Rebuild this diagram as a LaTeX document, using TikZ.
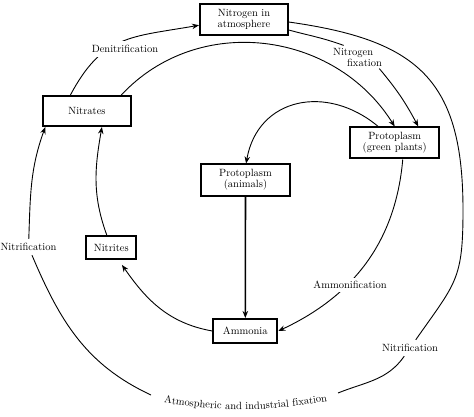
\documentclass[tikz,border=0pt]{standalone}
\usetikzlibrary{arrows.meta,decorations.text}

\begin{document}
\begin{tikzpicture}
  [x=1pt,y=1pt,line width=.9pt,
   every node/.style={font=\fontsize{10.5}{11}\selectfont,align=center},
   box/.style={draw,line width=2pt,inner sep=2pt},
   lbl/.style={inner sep=3pt},
   arr/.style={-{Stealth[length=7pt,width=5.5pt]}}]
  \useasboundingbox (0,0) rectangle (474,-417);
  % boxes
  \node[box,minimum width=88,minimum height=31] (atm) at (244,-19.7) {Nitrogen in\\atmosphere};
  \node[box,minimum width=88,minimum height=30] (nitrates) at (87,-111) {Nitrates};
  \node[box,minimum width=89,minimum height=31] (green) at (394.7,-143) {Protoplasm\\(green plants)};
  \node[box,minimum width=89,minimum height=31] (animals) at (245.5,-180) {Protoplasm\\(animals)};
  \node[box,minimum width=50,minimum height=23] (nitrites) at (111.3,-247.5) {Nitrites};
  \node[box,minimum width=64,minimum height=24] (ammonia) at (245.3,-331) {Ammonia};
  % labels the lines run through
  \node[lbl,inner sep=2pt,align=left] (nfix) at (357.5,-57) {Nitrogen\\\hspace*{14pt}fixation};
  \node[lbl,inner sep=4pt] (nitR) at (410,-348) {Nitrification};
  \node[lbl,inner sep=4pt] (nitL) at (28.5,-247) {Nitrification};
  \coordinate (east) at (463,-210);
  \coordinate (fixR) at (338,-393);
  \coordinate (fixL) at (151,-395);

  \draw[arr] (nitrates.136) to[out=62,in=190,looseness=1.2] (atm.187);
  \draw[arr] (nitrates.25) to[out=47,in=122,looseness=1.05] (green.north);
  \draw (atm.-13) to[out=-15,in=160] (nfix.140);
  \draw[arr] (nfix.-28) to[out=-50,in=118] (green.35);
  \draw[arr] (green.135) to[out=140,in=80,looseness=1.25] (animals.88);
  \draw[arr,line width=1.6pt] (animals) -- (ammonia);
  \draw[arr] (green.-64) to[out=-95,in=25] (ammonia.east);
  \draw[arr,shorten >=6pt] (ammonia.west) to[out=170,in=-55] (nitrites.-60);
  \draw[arr] (nitrites.110) to[out=110,in=-100] (nitrates.-47);

  % outer ring
  \draw (atm.-3) to[out=-8,in=90,looseness=1.3] (east) to[out=-90,in=55,looseness=1.3] (nitR);
  \draw (nitR) to[out=-125,in=22] (fixR);
  \draw (fixL) to[out=155,in=-67] (nitL);
  \draw[arr] (nitL) to[out=88,in=-110] (nitrates.-159);
  \path[decorate,decoration={text along path,text align=center,
    text={|\fontsize{10.5}{11}\selectfont|Atmospheric and industrial fixation}}]
    (152,-401) to[bend right=10] (339,-399);

  \node[lbl,fill=white,inner sep=4pt] (denit) at (125,-49) {Denitrification};
  \node[lbl,fill=white] (ammon) at (350,-285) {Ammonification};
\end{tikzpicture}
\end{document}
